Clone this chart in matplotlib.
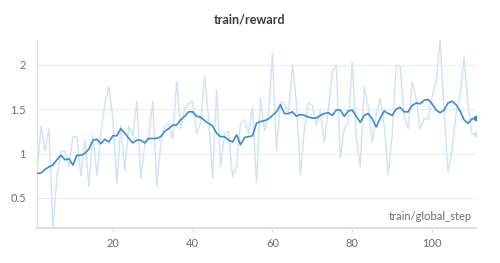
import numpy as np
import matplotlib
matplotlib.use('Agg')
import matplotlib.pyplot as plt

# ── data ──
steps = list(range(1, 112))

raw_reward = [
    0.77, 1.31, 1.03, 1.28, 0.16, 0.74, 1.03, 1.03, 0.85, 1.19,
    1.19, 0.75, 1.15, 0.63, 1.21, 0.75, 1.22, 1.56, 1.75, 1.40,
    0.66, 1.31, 0.81, 1.31, 1.20, 1.59, 0.72, 1.10, 1.20, 1.59,
    0.63, 1.10, 1.31, 1.34, 1.16, 1.81, 1.28, 1.50, 1.56, 1.59,
    1.22, 1.35, 1.87, 1.40, 0.72, 1.72, 0.85, 1.22, 1.25, 0.74,
    0.85, 1.34, 1.38, 1.22, 1.53, 0.67, 1.62, 1.26, 1.45, 2.13,
    1.03, 1.58, 1.57, 1.46, 2.00, 1.57, 0.76, 1.28, 1.57, 1.54,
    1.32, 1.49, 1.13, 1.50, 1.92, 2.00, 0.95, 1.28, 1.34, 2.03,
    1.18, 0.85, 1.75, 1.53, 1.13, 1.43, 1.62, 1.32, 0.76, 1.22,
    2.00, 1.98, 1.42, 1.28, 1.81, 1.62, 1.28, 1.39, 1.39, 1.64,
    1.81, 2.28, 1.48, 0.79, 1.05, 1.45, 1.64, 2.09, 1.55, 1.22,
    1.22,
]

smooth_reward = [
    0.775, 0.78, 0.82, 0.85, 0.87, 0.93, 0.98, 0.93, 0.94, 0.87,
    0.98, 0.98, 1.00, 1.05, 1.15, 1.16, 1.11, 1.16, 1.13, 1.20,
    1.20, 1.28, 1.23, 1.17, 1.12, 1.15, 1.15, 1.12, 1.17, 1.17,
    1.17, 1.19, 1.25, 1.28, 1.32, 1.32, 1.38, 1.42, 1.47, 1.47,
    1.42, 1.41, 1.37, 1.34, 1.31, 1.23, 1.19, 1.19, 1.15, 1.13,
    1.21, 1.10, 1.18, 1.19, 1.20, 1.34, 1.36, 1.37, 1.39, 1.43,
    1.47, 1.55, 1.45, 1.45, 1.47, 1.42, 1.44, 1.43, 1.41, 1.40,
    1.40, 1.43, 1.45, 1.46, 1.43, 1.49, 1.49, 1.42, 1.48, 1.49,
    1.42, 1.35, 1.43, 1.45, 1.39, 1.30, 1.40, 1.48, 1.45, 1.43,
    1.50, 1.52, 1.47, 1.47, 1.54, 1.57, 1.56, 1.60, 1.61, 1.56,
    1.49, 1.46, 1.49, 1.57, 1.59, 1.55, 1.48, 1.38, 1.34, 1.39,
    1.40,
]

x_ticks = [20, 40, 60, 80, 100]
y_ticks = [0.5, 1, 1.5, 2]
y_tick_labels = ['0.5', '1', '1.5', '2']

BLUE = '#3a8ad8'
LIGHT = '#cfe2f6'
GRID = '#ececec'
TXT = '#6b6b76'

plt.rcParams['font.family'] = ['Lato', 'DejaVu Sans']

fig = plt.figure(figsize=(5.0, 2.63), dpi=100)
ax = fig.add_axes([0.074, 0.133, 0.878, 0.715])

# raw series (faint) and smoothed series
ax.plot(steps, raw_reward, color=LIGHT, linewidth=1.0, zorder=2)
ax.plot(steps, smooth_reward, color=BLUE, linewidth=1.2, zorder=3)
ax.plot(steps[-1], raw_reward[-1], 'o', color=LIGHT, markersize=3, zorder=2)
ax.plot(steps[-1], smooth_reward[-1], 'o', color=BLUE, markersize=3, zorder=3)

ax.set_xlim(1, 111)
ax.set_ylim(0.16, 2.28)
ax.set_xticks(x_ticks)
ax.set_yticks(y_ticks)
ax.set_yticklabels(y_tick_labels)

ax.grid(axis='y', color=GRID, linewidth=0.8)
ax.set_axisbelow(True)
for s in ['top', 'right']:
    ax.spines[s].set_visible(False)
ax.spines['left'].set_color('#e3e3e3')
ax.spines['left'].set_linewidth(0.8)
ax.spines['bottom'].set_color('#dddddd')
ax.spines['bottom'].set_linewidth(1.5)

ax.tick_params(axis='y', length=0, pad=8, labelsize=8, labelcolor=TXT)
ax.tick_params(axis='x', length=3, width=0.8, color='#dddddd', pad=4,
               labelsize=8, labelcolor=TXT)

ax.text(0.99, 0.03, 'train/global_step', transform=ax.transAxes,
        ha='right', va='bottom', fontsize=8, color=TXT)

fig.text(0.5, 0.925, 'train/reward', ha='center', va='center',
         fontsize=9, fontweight='bold', color='#3a3a44')

fig.savefig('out.png', dpi=100)
